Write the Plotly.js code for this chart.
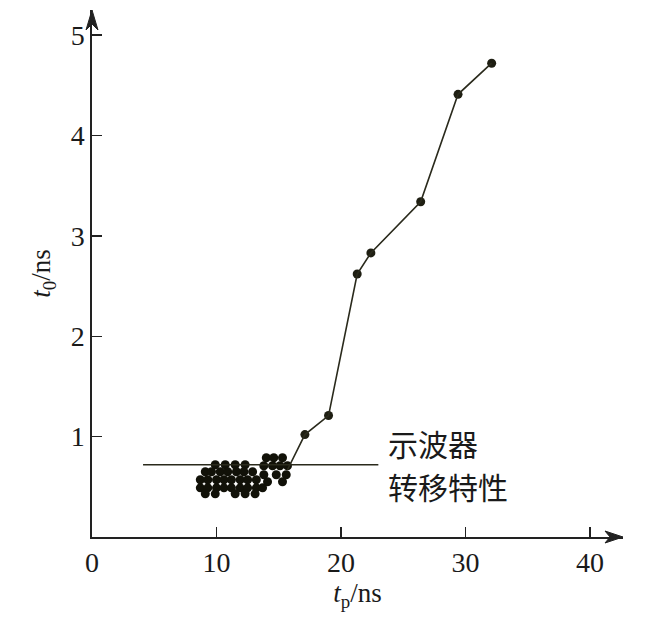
<!DOCTYPE html>
<html>
<head>
<meta charset="utf-8">
<script src="https://cdn.plot.ly/plotly-3.0.1.min.js"></script>
<style>body{margin:0;background:#fff;} #chart{width:653px;height:622px;}</style>
</head>
<body>
<div id="chart"></div>
<script>
// dense cluster of measured points (oscilloscope transfer characteristic region)
var clusterX = [
  9.9, 10.7, 11.5, 12.3,
  9.1, 9.6, 10.3, 10.9, 11.6, 12.2, 12.9,
  8.7, 9.3, 10.0, 10.6, 11.2, 11.9, 12.5, 13.2,
  8.7, 9.3, 10.0, 10.6, 11.2, 11.9, 12.5, 13.2, 13.7,
  9.1, 9.9, 11.5, 12.3, 13.1,
  14.0, 14.6, 15.3,
  13.8, 14.5, 15.1, 15.7,
  13.8, 14.8, 15.6,
  14.1, 15.3
];
var clusterY = [
  0.72, 0.72, 0.72, 0.72,
  0.65, 0.65, 0.65, 0.65, 0.65, 0.65, 0.65,
  0.57, 0.57, 0.57, 0.57, 0.57, 0.57, 0.57, 0.57,
  0.49, 0.49, 0.49, 0.49, 0.49, 0.49, 0.49, 0.49, 0.49,
  0.43, 0.43, 0.43, 0.43, 0.43,
  0.79, 0.79, 0.79,
  0.71, 0.71, 0.71, 0.71,
  0.62, 0.62, 0.62,
  0.55, 0.55
];
// main curve
var tp = [15.7, 17.1, 19.0, 21.3, 22.4, 26.4, 29.4, 32.1];
var t0 = [0.67, 1.02, 1.21, 2.62, 2.83, 3.34, 4.41, 4.72];
var xTicks = [0, 10, 20, 30, 40];
var yTicks = [1, 2, 3, 4, 5];
var labelLines = ['示波器', '转移特性'];

var lineColor = '#2a2a1c';
var traces = [
  {x: clusterX, y: clusterY, mode: 'markers', type: 'scatter',
   marker: {size: 9, color: '#111108'}, hoverinfo: 'skip', cliponaxis: false},
  {x: tp.slice(1), y: t0.slice(1), mode: 'markers', type: 'scatter',
   marker: {size: 9, color: '#1e1e12'}, cliponaxis: false},
  {x: tp, y: t0, mode: 'lines', type: 'scatter',
   line: {color: lineColor, width: 1.6}, cliponaxis: false}
];

var serif = '"Liberation Serif", "Times New Roman", serif';
var pw = 653 - 92 - 30, ph = 622 - 10 - 85;
var axisArrowX = 'M 1 0 L ' + (1 - 18 / pw) + ' ' + (6 / ph) + ' L ' + (1 - 13 / pw) + ' 0 L ' + (1 - 18 / pw) + ' ' + (-6 / ph) + ' Z';
var axisArrowY = 'M 0 1 L ' + (6 / pw) + ' ' + (1 - 20 / ph) + ' L 0 ' + (1 - 14 / ph) + ' L ' + (-6 / pw) + ' ' + (1 - 20 / ph) + ' Z';

var layout = {
  width: 653, height: 622,
  margin: {l: 92, r: 30, t: 10, b: 85},
  showlegend: false,
  paper_bgcolor: '#fff', plot_bgcolor: '#fff',
  xaxis: {
    range: [0, 42.65], showgrid: false, zeroline: false,
    showline: true, linecolor: '#222', linewidth: 1.6,
    ticks: 'inside', ticklen: 10, tickwidth: 1.3, tickcolor: '#222',
    tickmode: 'array', tickvals: xTicks, ticktext: xTicks.map(String),
    tickfont: {family: serif, size: 28, color: '#1a1a1a'},
    title: {text: '<i>t</i><sub>p</sub>/ns', font: {family: serif, size: 27, color: '#1a1a1a'}, standoff: 4}
  },
  yaxis: {
    range: [0, 5.25], showgrid: false, zeroline: false,
    showline: true, linecolor: '#222', linewidth: 1.6,
    ticks: 'inside', ticklen: 10, tickwidth: 1.3, tickcolor: '#222',
    tickmode: 'array', tickvals: yTicks, ticktext: yTicks.map(String),
    tickfont: {family: serif, size: 28, color: '#1a1a1a'},
    title: {text: '<i>t</i><sub>0</sub>/ns', font: {family: serif, size: 27, color: '#1a1a1a'}, standoff: 12}
  },
  shapes: [
    {type: 'line', xref: 'x', yref: 'y', x0: 4.1, x1: 23.0, y0: 0.72, y1: 0.72,
     line: {color: lineColor, width: 1.6}},
    {type: 'path', xref: 'paper', yref: 'paper', path: axisArrowX,
     fillcolor: '#222', line: {color: '#222', width: 1}},
    {type: 'path', xref: 'paper', yref: 'paper', path: axisArrowY,
     fillcolor: '#222', line: {color: '#222', width: 1}}
  ],
  annotations: [
    {xref: 'x', yref: 'y', x: 23.6, y: 0.94, xanchor: 'left', yanchor: 'middle', showarrow: false,
     text: labelLines[0], font: {family: '"Noto Sans CJK SC", sans-serif', size: 30, color: '#1a1a1a'}},
    {xref: 'x', yref: 'y', x: 23.6, y: 0.51, xanchor: 'left', yanchor: 'middle', showarrow: false,
     text: labelLines[1], font: {family: '"Noto Sans CJK SC", sans-serif', size: 30, color: '#1a1a1a'}}
  ]
};
Plotly.newPlot('chart', traces, layout, {displayModeBar: false, staticPlot: true});
</script>
</body>
</html>
